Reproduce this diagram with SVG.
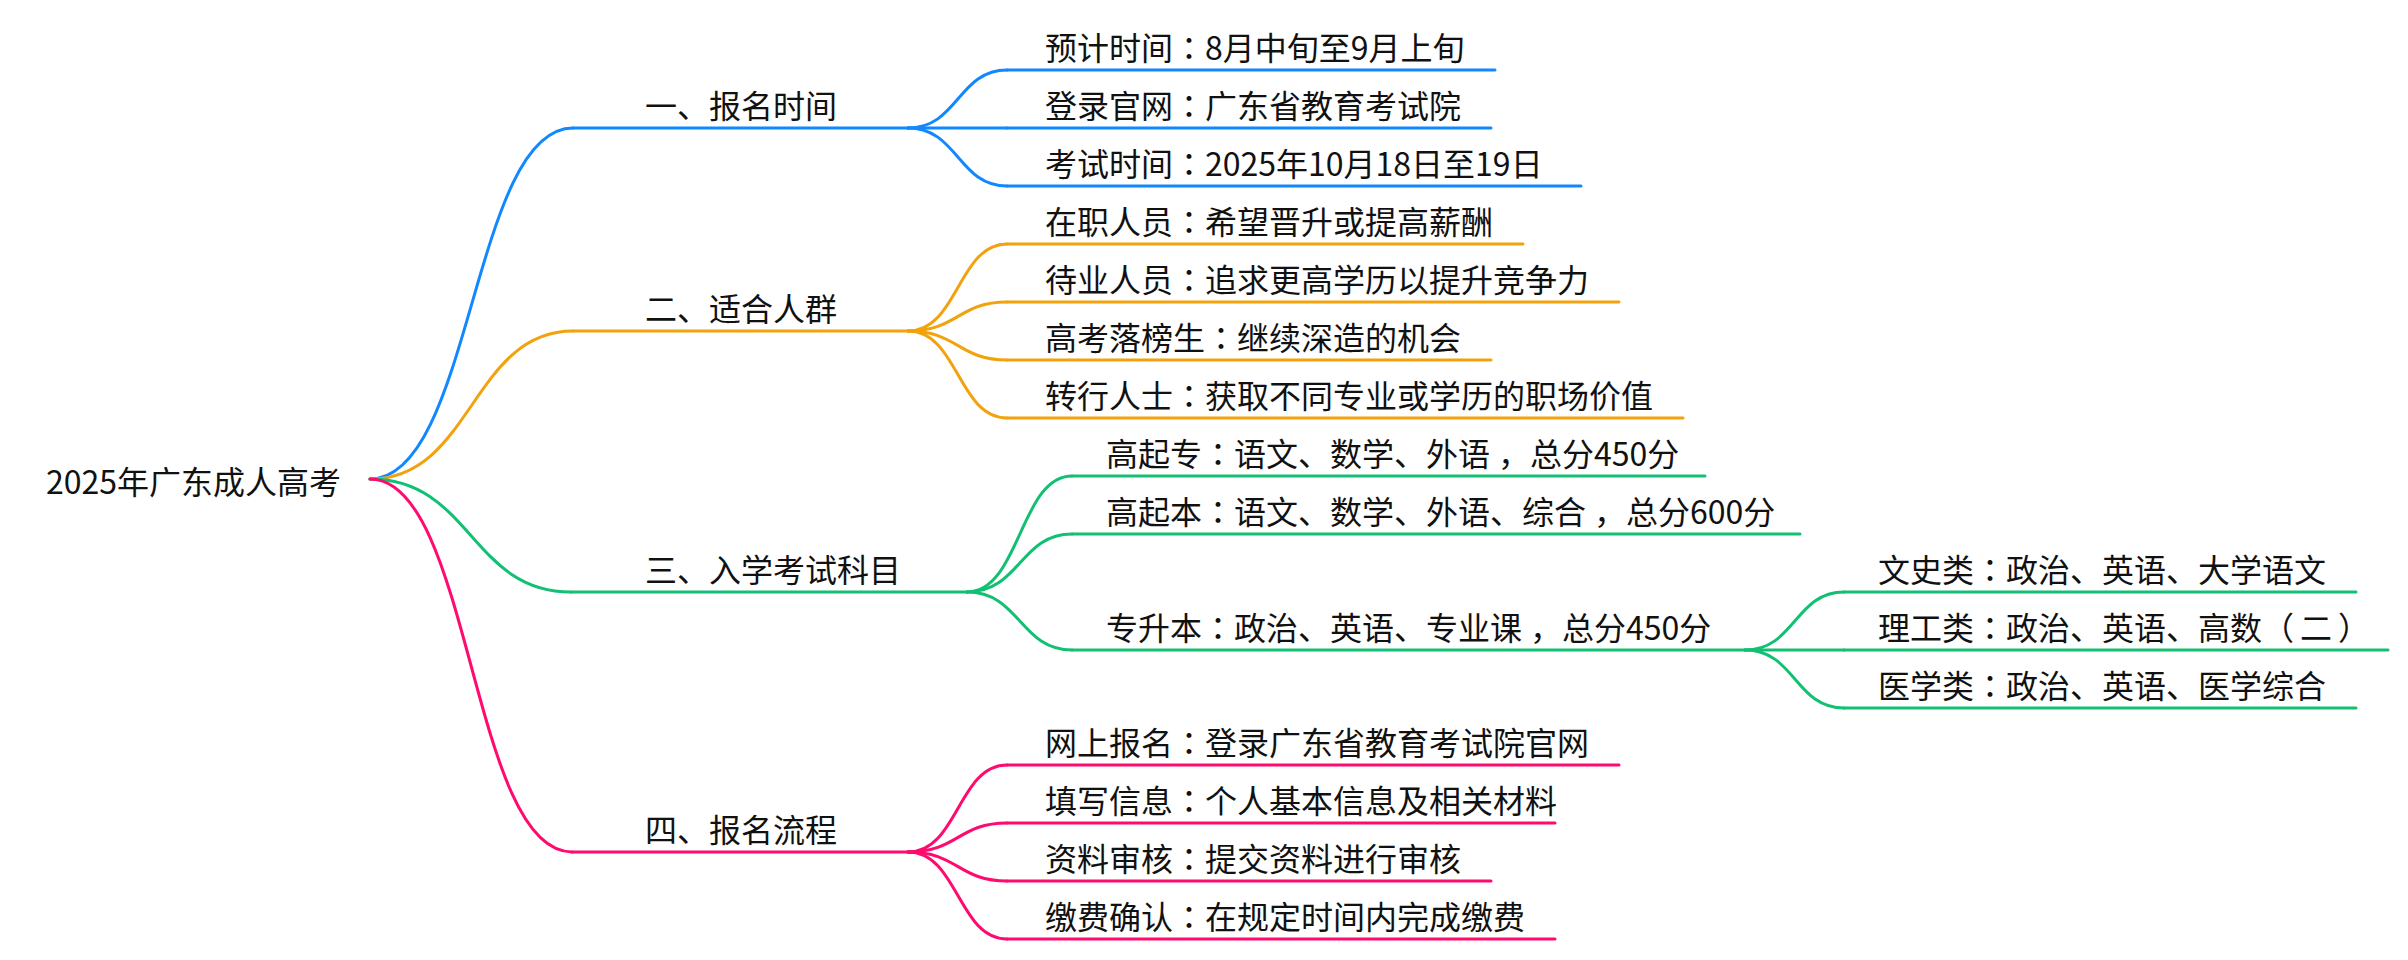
<svg xmlns="http://www.w3.org/2000/svg" width="2408" height="960" viewBox="0 0 2408 960">
<style>
text{font-family:"Noto Sans CJK SC","Microsoft YaHei","Liberation Sans",sans-serif;font-size:32px;fill:#111;}
.c{font-family:"Noto Sans CJK TC","Noto Sans CJK JP",sans-serif;}
.ln{fill:none;stroke-width:3;stroke-linecap:round;}
.b{stroke:#1188ff;}
.o{stroke:#f2a20c;}
.g{stroke:#12c073;}
.p{stroke:#ff0a6e;}
</style>
<rect width="2408" height="960" fill="#fff"/>
<g id="connectors">
<path class="ln b" d="M370,479 C472,479 472,128 573,128"/>
<path class="ln o" d="M370,479 C472,479 472,331 573,331"/>
<path class="ln g" d="M370,479 C471,479 471,592 571,592"/>
<path class="ln p" d="M370,479 C471,479 471,852 572,852"/>
<path class="ln b" d="M908,128 C958,128 958,70 1007,70"/>
<path class="ln b" d="M908,128 L1007,128"/>
<path class="ln b" d="M908,128 C958,128 958,186 1007,186"/>
<path class="ln o" d="M908,331 C958,331 958,244 1007,244"/>
<path class="ln o" d="M908,331 C958,331 958,302 1007,302"/>
<path class="ln o" d="M908,331 C958,331 958,360 1007,360"/>
<path class="ln o" d="M908,331 C958,331 958,418 1007,418"/>
<path class="ln g" d="M967,592 C1020,592 1020,476 1072,476"/>
<path class="ln g" d="M967,592 C1020,592 1020,534 1072,534"/>
<path class="ln g" d="M967,592 C1020,592 1020,650 1072,650"/>
<path class="ln g" d="M1745,650 C1795,650 1795,592 1844,592"/>
<path class="ln g" d="M1745,650 L1844,650"/>
<path class="ln g" d="M1745,650 C1795,650 1795,708 1844,708"/>
<path class="ln p" d="M908,852 C958,852 958,765 1007,765"/>
<path class="ln p" d="M908,852 C958,852 958,823 1007,823"/>
<path class="ln p" d="M908,852 C958,852 958,881 1007,881"/>
<path class="ln p" d="M908,852 C958,852 958,939 1007,939"/>
</g>
<g id="root"><text x="46" y="494">2025年广东成人高考</text></g>
<g id="n1"><path class="ln b" d="M573,128 H908"/><text x="645" y="118">一、报名时间</text></g>
<g id="n1-1"><path class="ln b" d="M1007,70 H1495"/><text x="1045" y="60">预计时间<tspan class="c">：</tspan>8月中旬至9月上旬</text></g>
<g id="n1-2"><path class="ln b" d="M1007,128 H1491"/><text x="1045" y="118">登录官网<tspan class="c">：</tspan>广东省教育考试院</text></g>
<g id="n1-3"><path class="ln b" d="M1007,186 H1581"/><text x="1045" y="176">考试时间<tspan class="c">：</tspan>2025年10月18日至19日</text></g>
<g id="n2"><path class="ln o" d="M573,331 H908"/><text x="645" y="321">二、适合人群</text></g>
<g id="n2-1"><path class="ln o" d="M1007,244 H1523"/><text x="1045" y="234">在职人员<tspan class="c">：</tspan>希望晋升或提高薪酬</text></g>
<g id="n2-2"><path class="ln o" d="M1007,302 H1619"/><text x="1045" y="292">待业人员<tspan class="c">：</tspan>追求更高学历以提升竞争力</text></g>
<g id="n2-3"><path class="ln o" d="M1007,360 H1491"/><text x="1045" y="350">高考落榜生<tspan class="c">：</tspan>继续深造的机会</text></g>
<g id="n2-4"><path class="ln o" d="M1007,418 H1683"/><text x="1045" y="408">转行人士<tspan class="c">：</tspan>获取不同专业或学历的职场价值</text></g>
<g id="n3"><path class="ln g" d="M571,592 H967"/><text x="645" y="582">三、入学考试科目</text></g>
<g id="n3-1"><path class="ln g" d="M1072,476 H1705"/><text x="1106" y="466">高起专<tspan class="c">：</tspan>语文、数学、外语<tspan dx="8">，</tspan>总分450分</text></g>
<g id="n3-2"><path class="ln g" d="M1072,534 H1800"/><text x="1106" y="524">高起本<tspan class="c">：</tspan>语文、数学、外语、综合<tspan dx="8">，</tspan>总分600分</text></g>
<g id="n3-3"><path class="ln g" d="M1072,650 H1745"/><text x="1106" y="640">专升本<tspan class="c">：</tspan>政治、英语、专业课<tspan dx="8">，</tspan>总分450分</text></g>
<g id="n3-3-1"><path class="ln g" d="M1844,592 H2356"/><text x="1878" y="582">文史类<tspan class="c">：</tspan>政治、英语、大学语文</text></g>
<g id="n3-3-2"><path class="ln g" d="M1844,650 H2388"/><text x="1878" y="640">理工类<tspan class="c">：</tspan>政治、英语、高数（<tspan dx="6">二</tspan><tspan dx="6">）</tspan></text></g>
<g id="n3-3-3"><path class="ln g" d="M1844,708 H2356"/><text x="1878" y="698">医学类<tspan class="c">：</tspan>政治、英语、医学综合</text></g>
<g id="n4"><path class="ln p" d="M572,852 H908"/><text x="645" y="842">四、报名流程</text></g>
<g id="n4-1"><path class="ln p" d="M1007,765 H1619"/><text x="1045" y="755">网上报名<tspan class="c">：</tspan>登录广东省教育考试院官网</text></g>
<g id="n4-2"><path class="ln p" d="M1007,823 H1555"/><text x="1045" y="813">填写信息<tspan class="c">：</tspan>个人基本信息及相关材料</text></g>
<g id="n4-3"><path class="ln p" d="M1007,881 H1491"/><text x="1045" y="871">资料审核<tspan class="c">：</tspan>提交资料进行审核</text></g>
<g id="n4-4"><path class="ln p" d="M1007,939 H1555"/><text x="1045" y="929">缴费确认<tspan class="c">：</tspan>在规定时间内完成缴费</text></g>
</svg>
